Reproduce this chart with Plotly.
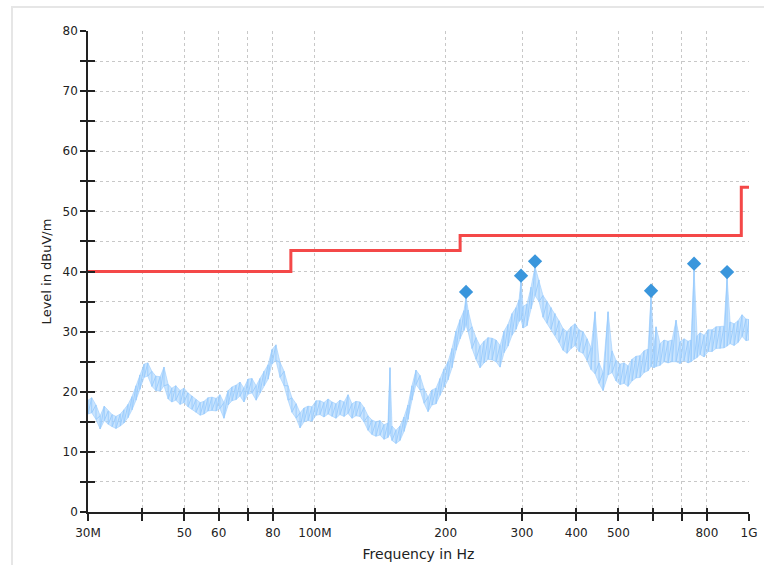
import plotly.graph_objects as go

# ---- data (frequencies in MHz, levels in dBuV/m) ----
noise_freq = [
    30.0, 30.6, 31.3, 32.0, 32.7, 33.4, 34.1, 34.8, 35.6, 36.3,
    37.1, 37.9, 38.7, 39.5, 40.4, 41.2, 42.1, 43.0, 44.0, 44.9,
    45.9, 46.8, 47.8, 48.9, 49.9, 51.0, 52.1, 53.2, 54.4, 55.5,
    56.7, 57.9, 59.2, 60.4, 61.7, 63.1, 64.4, 65.8, 67.2, 68.6,
    70.1, 71.6, 73.2, 74.7, 76.3, 78.0, 79.6, 81.3, 83.1, 84.9,
    86.7, 88.5, 90.5, 92.4, 94.4, 96.4, 98.4, 100.6, 102.7, 104.9,
    107.2, 109.5, 111.8, 114.2, 116.7, 119.2, 121.7, 124.3, 127.0, 129.7,
    132.5, 135.3, 138.2, 141.2, 144.2, 147.3, 148.9, 150.5, 153.7, 157.0,
    160.4, 163.8, 167.3, 170.9, 174.6, 178.4, 182.2, 186.1, 190.1, 194.1,
    198.3, 202.6, 206.9, 211.4, 215.9, 220.5, 222.9, 225.3, 230.1, 235.0,
    240.1, 245.2, 250.5, 255.9, 261.4, 267.0, 272.7, 278.5, 284.5, 290.6,
    295.3, 298.4, 301.6, 308.0, 314.7, 321.4, 328.3, 335.3, 342.5, 349.9,
    357.4, 365.0, 372.9, 380.9, 389.1, 397.4, 405.9, 414.6, 423.6, 432.7,
    441.9, 451.4, 461.1, 473.5, 483.7, 494.0, 504.6, 515.4, 526.4, 537.7,
    549.3, 561.1, 573.1, 585.4, 594.7, 604.3, 610.7, 623.8, 637.3, 650.9,
    664.9, 679.1, 693.6, 708.5, 723.8, 735.4, 747.2, 759.2, 771.3, 788.0,
    804.9, 822.1, 839.7, 857.7, 876.0, 890.2, 904.5, 923.9, 943.6, 963.8,
    984.5, 1000.0,
]
noise_upper = [
    18.6, 19.0, 17.8, 16.0, 17.6, 16.8, 16.2, 15.9, 16.3, 17.0,
    17.9, 19.2, 21.0, 22.8, 24.6, 24.8, 23.4, 22.6, 22.5, 24.1,
    21.2, 20.6, 21.0, 20.2, 20.6, 19.8, 19.3, 18.7, 18.2, 18.4,
    19.0, 19.1, 18.9, 19.5, 18.2, 20.2, 20.8, 21.1, 21.6, 20.6,
    22.1, 22.2, 21.0, 22.2, 23.4, 24.5, 27.0, 27.8, 24.9, 23.4,
    21.0, 19.0, 18.0, 16.5, 17.3, 17.6, 17.5, 18.5, 18.5, 18.2,
    18.8, 18.3, 18.0, 18.6, 18.3, 19.5, 18.0, 18.4, 18.3, 17.4,
    16.0, 15.3, 15.0, 15.2, 14.5, 14.8, 24.0, 14.3, 13.6, 14.3,
    15.8, 17.8, 21.0, 23.6, 22.7, 20.5, 19.1, 20.3, 20.6, 22.2,
    23.8, 25.0, 27.2, 30.1, 32.0, 33.5, 35.8, 33.6, 30.8, 29.0,
    27.6, 28.4, 29.0, 28.9, 28.6, 27.7, 30.1, 31.2, 33.0, 34.0,
    35.3, 38.6, 34.2, 34.6, 37.4, 40.8, 38.6, 36.0, 35.0, 34.0,
    33.0, 31.8, 30.5, 30.0, 30.8, 31.3, 30.3, 30.0, 28.8, 27.3,
    33.3, 24.8, 23.2, 33.3, 26.8, 25.2, 24.6, 24.8, 24.3, 25.4,
    25.9, 26.0, 26.8, 27.1, 35.8, 27.6, 30.8, 28.0, 28.6, 28.4,
    28.6, 31.9, 28.3, 28.8, 28.4, 28.6, 40.4, 29.3, 29.8, 29.4,
    30.3, 30.3, 30.8, 30.8, 30.9, 39.0, 31.6, 31.3, 31.8, 32.8,
    32.1, 32.0,
]
noise_lower = [
    16.3, 16.5, 15.4, 13.8, 15.2, 14.6, 14.2, 13.9, 14.3, 14.8,
    15.7, 17.0, 18.6, 20.4, 22.4, 22.6, 20.9, 20.2, 20.1, 21.0,
    18.8, 18.3, 18.6, 17.9, 18.2, 17.5, 17.1, 16.6, 16.1, 16.3,
    16.8, 16.9, 16.8, 17.2, 15.6, 17.8, 18.5, 18.7, 19.3, 18.3,
    19.6, 19.8, 18.6, 19.8, 21.0, 22.1, 24.6, 25.2, 22.4, 21.0,
    18.6, 16.6, 15.6, 14.0, 15.0, 15.2, 15.1, 16.1, 16.2, 15.8,
    16.3, 15.9, 15.6, 16.2, 15.9, 16.4, 15.6, 16.0, 15.9, 15.0,
    13.6, 12.9, 12.6, 12.8, 12.1, 12.4, 13.0, 11.9, 11.4, 11.9,
    13.4, 15.4, 18.6, 21.2, 20.3, 18.1, 16.7, 17.8, 18.0, 19.4,
    20.8, 22.0, 24.0, 26.9, 28.8, 30.2, 31.0, 30.0, 27.2, 25.4,
    24.0, 24.8, 25.4, 25.3, 25.0, 24.1, 26.5, 27.6, 29.4, 30.4,
    31.7, 32.0, 30.6, 31.0, 33.8, 36.0, 35.0, 32.4, 31.4, 30.4,
    29.4, 28.2, 26.9, 26.4, 27.2, 27.7, 26.7, 26.4, 25.2, 23.7,
    23.0, 21.4, 20.2, 22.8, 23.2, 21.8, 21.2, 21.4, 20.9, 21.8,
    22.3, 22.4, 23.2, 23.5, 24.2, 24.0, 24.2, 24.4, 25.0, 24.8,
    25.0, 25.0, 24.7, 25.2, 24.8, 25.0, 25.4, 25.7, 26.2, 25.8,
    26.7, 26.7, 27.2, 27.2, 27.3, 27.6, 28.0, 27.7, 28.2, 29.2,
    28.5, 28.6,
]

limit_freq = [30, 88, 216, 960, 1000]
limit_level = [40, 43.5, 46, 54, 54]

peak_freq = [222.9, 298.4, 321.4, 594.7, 747.2, 890.2]
peak_level = [36.6, 39.3, 41.7, 36.8, 41.3, 39.9]

x_tickvals = [30, 40, 50, 60, 70, 80, 100, 200, 300, 400, 500, 600, 700, 800, 1000]
x_ticktext = ["30M", "", "50", "60", "", "80", "100M", "200", "300", "400", "500", "", "", "800", "1G"]
y_tickvals = [0, 5, 10, 15, 20, 25, 30, 35, 40, 45, 50, 55, 60, 65, 70, 75, 80]
y_ticktext = ["0", "", "10", "", "20", "", "30", "", "40", "", "50", "", "60", "", "70", "", "80"]

# interleave upper/lower readings so the trace draws the noisy band
nx, ny = [], []
for f, u, l in zip(noise_freq, noise_upper, noise_lower):
    nx += [f, f]
    ny += [u, l]

FONT = "DejaVu Sans"
TXT = "#222222"
GRID = "#c8c8c8"
AX = "#222222"
XR = [1.47712, 3.0]
YR = [0, 80]
BAND = "#9ccdfd"

fig = go.Figure()
# band fill between the read upper and lower envelopes
fig.add_trace(go.Scatter(x=noise_freq, y=noise_upper, mode="lines",
                         line=dict(color=BAND, width=0.6),
                         hoverinfo="skip", showlegend=False))
fig.add_trace(go.Scatter(x=noise_freq, y=noise_lower, mode="lines",
                         line=dict(color=BAND, width=0.6), fill="tonexty",
                         fillcolor="rgba(156,205,253,0.55)",
                         hoverinfo="skip", showlegend=False))
fig.add_trace(go.Scatter(x=nx, y=ny, mode="lines",
                         line=dict(color=BAND, width=1),
                         hoverinfo="skip", showlegend=False))
fig.add_trace(go.Scatter(x=limit_freq, y=limit_level, mode="lines",
                         line=dict(color="#f44848", width=3, shape="hv"),
                         showlegend=False))
fig.add_trace(go.Scatter(x=peak_freq, y=peak_level, mode="markers",
                         marker=dict(symbol="diamond", size=11, color="#3a96dc",
                                     line=dict(width=0)),
                         showlegend=False))
# invisible helpers so the overlay axes (inside tick halves) are drawn
fig.add_trace(go.Scatter(x=[limit_freq[0]], y=[limit_level[0]], xaxis="x2", yaxis="y",
                         mode="markers", marker=dict(opacity=0), hoverinfo="skip", showlegend=False))
fig.add_trace(go.Scatter(x=[limit_freq[0]], y=[limit_level[0]], xaxis="x", yaxis="y2",
                         mode="markers", marker=dict(opacity=0), hoverinfo="skip", showlegend=False))

fig.update_layout(
    width=764, height=565,
    margin=dict(l=88, r=15, t=31, b=53),
    paper_bgcolor="white", plot_bgcolor="white",
    font=dict(family=FONT, size=12, color=TXT),
    showlegend=False,
    xaxis=dict(
        type="log", range=XR, tickmode="array", tickvals=x_tickvals, ticktext=x_ticktext,
        ticks="outside", ticklen=7, tickwidth=1.5, tickcolor=AX,
        showline=True, linecolor=AX, linewidth=1.5,
        showgrid=True, gridcolor=GRID, gridwidth=1, griddash="3px,3px",
        zeroline=False, ticklabelstandoff=2, automargin=False,
        tickfont=dict(family=FONT, size=12, color=TXT),
        title=dict(text="Frequency in Hz", font=dict(family=FONT, size=14, color=TXT), standoff=10),
    ),
    xaxis2=dict(
        type="log", range=XR, overlaying="x", anchor="y", side="bottom",
        tickmode="array", tickvals=x_tickvals, ticks="inside", ticklen=4, tickwidth=1.5,
        tickcolor=AX, showticklabels=False, showgrid=False, showline=False, zeroline=False,
        automargin=False,
    ),
    yaxis=dict(
        range=YR, tickmode="array", tickvals=y_tickvals, ticktext=y_ticktext,
        ticks="outside", ticklen=6, tickwidth=1.5, tickcolor=AX,
        showline=True, linecolor=AX, linewidth=1.5,
        showgrid=True, gridcolor=GRID, gridwidth=1, griddash="3px,3px",
        zeroline=False, automargin=False,
        tickfont=dict(family=FONT, size=12, color=TXT),
        title=dict(text="Level in dBuV/m", font=dict(family=FONT, size=13, color=TXT), standoff=8),
    ),
    yaxis2=dict(
        range=YR, overlaying="y", anchor="x", side="left",
        tickmode="array", tickvals=y_tickvals, ticks="inside", ticklen=7, tickwidth=1.5,
        tickcolor=AX, showticklabels=False, showgrid=False, showline=False, zeroline=False,
        automargin=False,
    ),
    shapes=[dict(type="rect", xref="paper", yref="paper",
                 x0=-0.115, x1=1.2, y0=-0.3, y1=1.05,
                 line=dict(color="#e6e6e6", width=2), fillcolor="rgba(0,0,0,0)", layer="below")],
)

fig.write_html("out.html", config={"displayModeBar": False},
               post_script="document.body.style.margin='0px';document.body.style.padding='0px';")
